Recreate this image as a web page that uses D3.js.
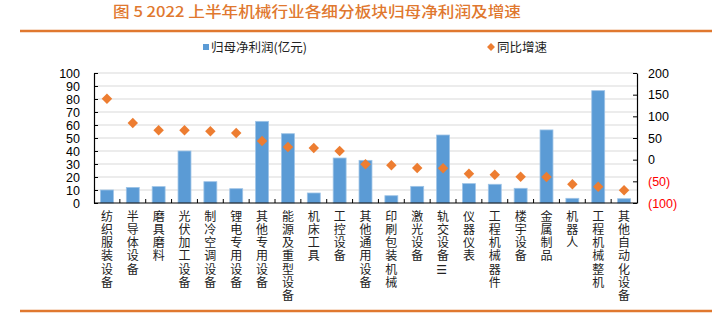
<!DOCTYPE html>
<html><head><meta charset="utf-8">
<script src="https://cdn.jsdelivr.net/npm/d3@7"></script>
<style>
html,body{margin:0;padding:0;background:#fff;}
svg{display:block;}
</style></head>
<body>
<svg id="chart" width="726" height="329"></svg>
<script>
const title = "图 5 2022 上半年机械行业各细分板块归母净利润及增速";
const categories = ["纺织服装设备","半导体设备","磨具磨料","光伏加工设备","制冷空调设备","锂电专用设备","其他专用设备","能源及重型设备","机床工具","工控设备","其他通用设备","印刷包装机械","激光设备","轨交设备☰","仪器仪表","工程机械器件","楼宇设备","金属制品","机器人","工程机械整机","其他自动化设备"];
const profit = [10.0,12.0,12.6,40.0,16.4,11.0,62.8,53.3,7.7,34.6,32.8,5.6,12.8,52.3,14.9,14.4,11.3,56.2,3.6,86.4,3.3];
const growth = [140.8,84.6,67.7,67.7,65.4,61.5,43.1,29.2,26.9,20.0,-10.8,-13.1,-19.2,-20.0,-32.3,-34.6,-39.2,-40.0,-56.9,-62.3,-70.8];
const leftTicks = [0,10,20,30,40,50,60,70,80,90,100];
const rightTicks = [-100,-50,0,50,100,150,200];
const seriesNames = ["归母净利润(亿元)","同比增速"];

const svg = d3.select("#chart");
const orange = "#E0782F";
const blue = "#5B9BD5";
const dia = "#ED7D31";
const L = 94, R = 637, T = 73, B = 203;

// title
svg.append("text").attr("x",113).attr("y",17)
  .attr("font-family","'Noto Sans CJK SC'").attr("font-size",14.5).attr("font-weight",500)
  .attr("fill",orange).attr("textLength",408).attr("lengthAdjust","spacingAndGlyphs")
  .text(title);
svg.append("line").attr("x1",20).attr("x2",712).attr("y1",31).attr("y2",31)
  .attr("stroke",orange).attr("stroke-width",2.5);
svg.append("line").attr("x1",20).attr("x2",712).attr("y1",311).attr("y2",311)
  .attr("stroke",orange).attr("stroke-width",2.5);

const xb = d3.scaleBand().domain(categories).range([L,R]);
const yL = d3.scaleLinear().domain([0,100]).range([B,T]);
const yR = d3.scaleLinear().domain([-100,200]).range([B,T]);

// gridlines
svg.append("g").selectAll("line").data(leftTicks.slice(1)).join("line")
  .attr("x1",L).attr("x2",R).attr("y1",d=>yL(d)).attr("y2",d=>yL(d))
  .attr("stroke","#d9d9d9").attr("stroke-width",1);

// bars
svg.append("g").selectAll("rect").data(profit).join("rect")
  .attr("x",(d,i)=>xb(categories[i])+xb.bandwidth()*0.25)
  .attr("width",xb.bandwidth()*0.5)
  .attr("y",d=>yL(d)).attr("height",d=>B-yL(d))
  .attr("fill",blue).attr("stroke","#9DC3E6").attr("stroke-width",0.8);

// diamonds
const sym = d3.symbol().type(d3.symbolDiamond2).size(70);
svg.append("g").selectAll("path").data(growth).join("path")
  .attr("d",sym)
  .attr("transform",(d,i)=>`translate(${xb(categories[i])+xb.bandwidth()/2},${yR(d)})`)
  .attr("fill",dia);

// left axis
const gl = svg.append("g").attr("transform",`translate(${L},0)`)
  .call(d3.axisLeft(yL).tickValues(leftTicks).tickSizeInner(-4).tickSizeOuter(0).tickPadding(14));
// right axis
const gr = svg.append("g").attr("transform",`translate(${R},0)`)
  .call(d3.axisRight(yR).tickValues(rightTicks).tickSizeInner(-4).tickSizeOuter(0).tickPadding(11)
    .tickFormat(d=> d<0 ? `(${-d})` : d));
[gl,gr].forEach(g=>{
  g.select(".domain").attr("stroke","#000").attr("stroke-width",1.2);
  g.selectAll(".tick line").attr("stroke","#000");
  g.selectAll("text").attr("font-family","'Liberation Sans', Arial").attr("font-size",12.5).attr("fill","#000");
});
gr.selectAll(".tick text").attr("fill",d=>d<0?"#FF0000":"#000");

// bottom axis
svg.append("line").attr("x1",L).attr("x2",R).attr("y1",B).attr("y2",B).attr("stroke","#000").attr("stroke-width",1.2);
svg.append("g").selectAll("line").data(categories.slice(1)).join("line")
  .attr("x1",d=>xb(d)).attr("x2",d=>xb(d)).attr("y1",B).attr("y2",B-4).attr("stroke","#000");

// x labels: one vertical-writing text per character, stacked
const lab = svg.append("g").selectAll("g").data(categories).join("g");
lab.each(function(d){
  const cx = xb(d)+xb.bandwidth()/2;
  d3.select(this).selectAll("text").data(Array.from(d)).join("text")
    .attr("x",cx).attr("y",(c,j)=>210+j*13.3)
    .style("writing-mode","vertical-rl")
    .attr("font-family","'Noto Sans CJK SC','DejaVu Sans'")
    .attr("font-size",12).attr("fill","#222")
    .text(c=>c);
});

// legend
const lg = svg.append("g").attr("font-family","'Noto Sans CJK SC'").attr("font-size",12.5).attr("fill","#222");
lg.append("rect").attr("x",203).attr("y",44).attr("width",6).attr("height",6).attr("fill",blue);
lg.append("text").attr("x",211).attr("y",52).text(seriesNames[0]);
lg.append("path").attr("d",d3.symbol().type(d3.symbolDiamond2).size(40)).attr("transform","translate(491,47)").attr("fill",dia);
lg.append("text").attr("x",497).attr("y",52).text(seriesNames[1]);
</script>
</body></html>
